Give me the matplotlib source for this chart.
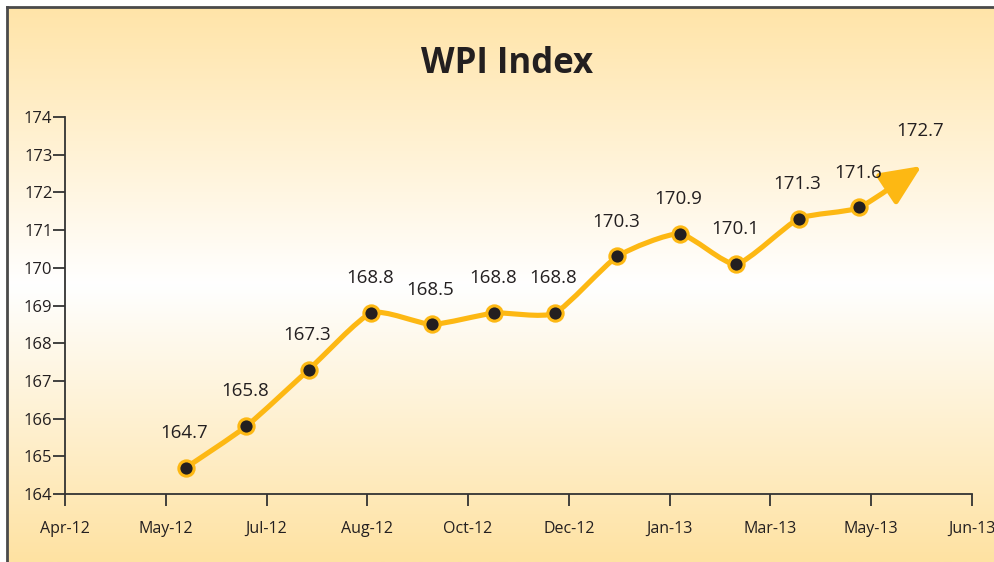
import numpy as np
import matplotlib
matplotlib.use('Agg')
import matplotlib.pyplot as plt
import matplotlib.dates as mdates
from matplotlib.path import Path
from matplotlib.patches import FancyArrowPatch

# ---- data ----
months = ['2012-05-31', '2012-06-30', '2012-07-31', '2012-08-31', '2012-09-30',
          '2012-10-31', '2012-11-30', '2012-12-31', '2013-01-31', '2013-02-28',
          '2013-03-31', '2013-04-30', '2013-05-31']
wpi = [164.7, 165.8, 167.3, 168.8, 168.5, 168.8, 168.8, 170.3, 170.9, 170.1,
       171.3, 171.6, 172.7]
axis_start = '2012-04-01'
tick_step_days = 50
n_ticks = 10
y_ticks = list(range(164, 175))
title = 'WPI Index'

GOLD = '#FDB813'
DARK = '#231F20'
AXC = '#333333'

plt.rcParams['font.family'] = ['Open Sans', 'DejaVu Sans']

fig = plt.figure(figsize=(9.95, 5.62), dpi=100)
fig.patch.set_facecolor('white')

# background gradient panel with border on top/left
bg = fig.add_axes([7 / 995, 0, 1 - 7 / 995, 1 - 7 / 562])
stops_pos = np.array([0.0, 0.5, 1.0])
stops_col = np.array([[0xFF, 0xE4, 0xA8], [0xFF, 0xFF, 0xFF], [0xFE, 0xE2, 0xA2]]) / 255.0
t = np.linspace(0, 1, 400)
grad = np.stack([np.interp(t, stops_pos, stops_col[:, k]) for k in range(3)], axis=-1)
grad = grad[:, None, :]
bg.imshow(grad, aspect='auto', extent=[0, 1, 0, 1], interpolation='bilinear')
bg.set_xlim(0, 1)
bg.set_ylim(0, 1)
bg.set_xticks([])
bg.set_yticks([])
for s in ['right', 'bottom']:
    bg.spines[s].set_visible(False)
for s in ['top', 'left']:
    bg.spines[s].set_color('#4a4a4a')
    bg.spines[s].set_linewidth(2)

ax = fig.add_axes([65 / 995, 1 - 494 / 562, (972 - 65) / 995, (494 - 117) / 562])
ax.patch.set_alpha(0)

x = mdates.datestr2num(months)
y = np.array(wpi)
start = mdates.datestr2num(axis_start)
ticks = start + np.arange(n_ticks) * tick_step_days

# mildly smoothed path (cardinal spline -> cubic Bezier)
tension = 1.0 / 10.0
pts = np.column_stack([x, y])
verts = [pts[0]]
codes = [Path.MOVETO]
n = len(pts)
for i in range(n - 1):
    p0 = pts[i - 1] if i > 0 else pts[i]
    p1 = pts[i]
    p2 = pts[i + 1]
    p3 = pts[i + 2] if i + 2 < n else pts[i + 1]
    c1 = p1 + (p2 - p0) * tension
    c2 = p2 - (p3 - p1) * tension
    verts += [c1, c2, p2]
    codes += [Path.CURVE4] * 3
path = Path(np.array(verts), codes)

arrow = FancyArrowPatch(path=path, arrowstyle='-|>,head_length=1.25,head_width=0.56',
                        mutation_scale=20, lw=3.7, color=GOLD,
                        transform=ax.transData, zorder=3, capstyle='round',
                        joinstyle='round')
ax.add_patch(arrow)

ax.plot(x[:-1], y[:-1], 'o', ms=11, mfc=DARK, mec=GOLD, mew=2.2, zorder=4,
        linestyle='none')

for xi, yi in zip(x, y):
    ax.annotate(f'{yi:.1f}', (xi, yi), xytext=(-1, 25), textcoords='offset points',
                ha='center', va='center', fontsize=13.5, color='#231F20', zorder=5)

ax.set_xlim(ticks[0], ticks[-1])
ax.set_ylim(y_ticks[0], y_ticks[-1])
ax.set_xticks(ticks)
ax.xaxis.set_major_formatter(mdates.DateFormatter('%b-%y'))
ax.set_yticks(y_ticks)

for s in ['top', 'right']:
    ax.spines[s].set_visible(False)
for s in ['left', 'bottom']:
    ax.spines[s].set_color(AXC)
    ax.spines[s].set_linewidth(1.3)

ax.tick_params(axis='both', direction='out', length=8.5, width=1.3, color=AXC,
               labelcolor='#231F20')
ax.tick_params(axis='y', pad=0.5, labelsize=12)
ax.tick_params(axis='x', pad=11, labelsize=11.5)

fig.text(0.51, 1 - 64 / 562, title, ha='center', va='center', fontsize=25,
         fontweight='bold', color='#231F20')

fig.savefig('out.png', dpi=100)
